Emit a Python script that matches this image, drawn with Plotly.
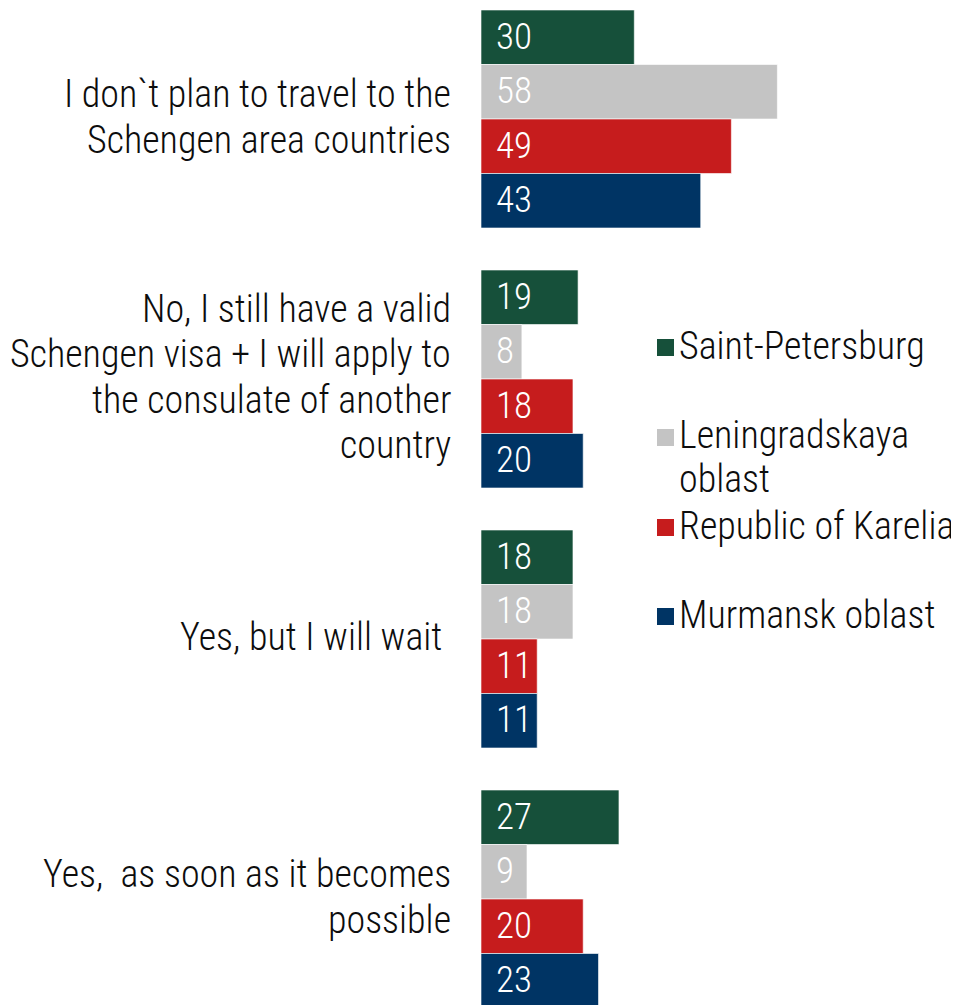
import plotly.graph_objects as go

categories = [
    "I don`t plan to travel to the<br>Schengen area countries",
    "No, I still have a valid<br>Schengen visa + I will apply to<br>the consulate of another<br>country",
    "Yes, but I will wait\u00a0",
    "Yes,\u00a0 as soon as it becomes<br>possible",
]
series_names = ["Saint-Petersburg", "Leningradskaya<br>oblast", "Republic of Karelia", "Murmansk oblast"]
saint_petersburg = [30, 19, 18, 27]
leningradskaya = [58, 8, 18, 9]
karelia = [49, 18, 11, 20]
murmansk = [43, 20, 11, 23]
series_values = [saint_petersburg, leningradskaya, karelia, murmansk]
colors = ["#16503A", "#C4C4C4", "#C61C1D", "#003464"]

OFF = 8  # page body margin
W, H = 959 - OFF, 1005 - OFF
FONT = "Roboto Condensed"
FW = 300
FS = 38
LINE = 45.5
L = 481 - OFF
plot_w = W - L
px_per_unit = 5.11
xmax = plot_w / px_per_unit
cat_px = 260.0
first_center_px = 119.0 - OFF
y_top = -first_center_px / cat_px
y_bottom = y_top + H / cat_px
bargap = 0.1615
bar_w = (1 - bargap) / len(series_values)

ypos = list(range(len(categories)))

fig = go.Figure()
for name, vals, col in zip(series_names, series_values, colors):
    fig.add_trace(go.Bar(
        y=ypos, x=vals, orientation="h", name=name.replace("<br>", " "),
        marker=dict(color=col, line=dict(color="rgba(255,255,255,0.6)", width=1)),
        showlegend=False, hoverinfo="x+name",
    ))

# value labels inside bars
for j, vals in enumerate(series_values):
    for i, v in enumerate(vals):
        fig.add_annotation(
            x=0, y=i + (j - (len(series_values) - 1) / 2) * bar_w,
            xref="x", yref="y", xanchor="left", yanchor="middle",
            xshift=13, yshift=1, showarrow=False, text=str(v),
            font=dict(family=FONT, size=37, color="white", weight=FW),
        )

# category labels (one annotation per line for exact line spacing)
for i, c in enumerate(categories):
    lines = c.split("<br>")
    n = len(lines)
    for k, ln in enumerate(lines):
        fig.add_annotation(
            x=0, y=i, xref="x", yref="y", xanchor="right", yanchor="middle",
            xshift=-28, yshift=-((k - (n - 1) / 2) * LINE) + 2,
            showarrow=False, text=ln, align="right",
            font=dict(family=FONT, size=FS, color="#0d0d0d", weight=FW),
        )

# legend (square swatches + text)
legend_centers_px = [347.5 - OFF, 437.5 - OFF, 527.5 - OFF, 616.5 - OFF]
sq = 17
sq_x0 = 657 - OFF
for name, col, cy in zip(series_names, colors, legend_centers_px):
    fig.add_shape(
        type="rect", xref="paper", yref="paper",
        x0=(sq_x0 - L) / plot_w, x1=(sq_x0 + sq - L) / plot_w,
        y0=1 - (cy + sq / 2) / H, y1=1 - (cy - sq / 2) / H,
        fillcolor=col, line=dict(width=0),
    )
    for k, ln in enumerate(name.split("<br>")):
        ty = cy + k * 43 - 2
        fig.add_annotation(
            x=(sq_x0 + sq + 3 - L) / plot_w, y=1 - ty / H, xref="paper", yref="paper",
            xanchor="left", yanchor="middle", showarrow=False, text=ln, align="left",
            font=dict(family=FONT, size=FS, color="#0d0d0d", weight=FW),
        )

fig.update_layout(
    width=W, height=H,
    margin=dict(l=L, r=0, t=0, b=0),
    barmode="group", bargap=bargap, bargroupgap=0,
    plot_bgcolor="white", paper_bgcolor="white",
    xaxis=dict(range=[0, xmax], visible=False, fixedrange=True),
    yaxis=dict(range=[y_bottom, y_top], visible=False, fixedrange=True),
    font=dict(family=FONT),
)
fig.write_html("out.html")
